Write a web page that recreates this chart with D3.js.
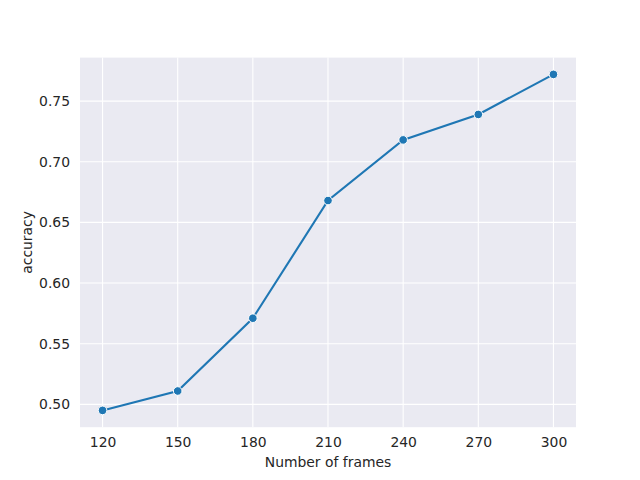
<!DOCTYPE html>
<html>
<head>
<meta charset="utf-8">
<script src="https://cdn.jsdelivr.net/npm/d3@7"></script>
<style>
  body { margin: 0; background: #fff; }
  text { font-family: "DejaVu Sans", sans-serif; fill: #262626; }
</style>
</head>
<body>
<script>
// data
var frames = [120, 150, 180, 210, 240, 270, 300];
var accuracy = [0.495, 0.511, 0.571, 0.668, 0.718, 0.739, 0.772];
var xTicks = [120, 150, 180, 210, 240, 270, 300];
var yTicks = [0.50, 0.55, 0.60, 0.65, 0.70, 0.75];

var width = 640, height = 480;
var margin = {left: 80, right: 64, top: 57.6, bottom: 52.8};
var innerW = width - margin.left - margin.right,
    innerH = height - margin.top - margin.bottom;

// matplotlib style 5% padding around the data
function padded(ext){
    var r = ext[1] - ext[0];
    return [ext[0] - r * 0.05, ext[1] + r * 0.05];
}

var xScale = d3.scaleLinear()
    .domain(padded(d3.extent(frames)))
    .range([0, innerW]);

var yScale = d3.scaleLinear()
    .domain(padded(d3.extent(accuracy)))
    .range([innerH, 0]);

var svg = d3.select("body")
    .append("svg")
    .attr("width", width)
    .attr("height", height);

var g = svg.append("g")
    .attr("transform", "translate(" + margin.left + "," + margin.top + ")");

//background panel
g.append("rect")
    .attr("width", innerW)
    .attr("height", innerH)
    .attr("fill", "#EAEAF2");

//grid lines
g.selectAll(".xgrid")
    .data(xTicks)
    .enter()
    .append("line")
    .attr("x1", function(d){ return xScale(d); })
    .attr("x2", function(d){ return xScale(d); })
    .attr("y1", 0)
    .attr("y2", innerH)
    .attr("stroke", "#fff")
    .attr("stroke-width", 1.1);

g.selectAll(".ygrid")
    .data(yTicks)
    .enter()
    .append("line")
    .attr("y1", function(d){ return yScale(d); })
    .attr("y2", function(d){ return yScale(d); })
    .attr("x1", 0)
    .attr("x2", innerW)
    .attr("stroke", "#fff")
    .attr("stroke-width", 1.1);

//axes, no tick marks or domain line
var xAxis = g.append("g")
    .attr("transform", "translate(0," + innerH + ")")
    .call(d3.axisBottom(xScale).tickValues(xTicks).tickSize(0).tickPadding(10));
var yAxis = g.append("g")
    .call(d3.axisLeft(yScale).tickValues(yTicks).tickSize(0).tickPadding(10)
        .tickFormat(d3.format(".2f")));

[xAxis, yAxis].forEach(function(a){
    a.select(".domain").remove();
    a.selectAll("text")
        .style("font-family", "DejaVu Sans, sans-serif")
        .style("font-size", "13.9px")
        .attr("fill", "#262626");
});

//line
var line = d3.line()
    .x(function(d, i){ return xScale(frames[i]); })
    .y(function(d){ return yScale(d); });

g.append("path")
    .datum(accuracy)
    .attr("d", line)
    .attr("fill", "none")
    .attr("stroke", "#1f77b4")
    .attr("stroke-width", 2.1);

//markers
g.selectAll(".dot")
    .data(accuracy)
    .enter()
    .append("circle")
    .attr("cx", function(d, i){ return xScale(frames[i]); })
    .attr("cy", function(d){ return yScale(d); })
    .attr("r", 4.3)
    .attr("fill", "#1f77b4")
    .attr("stroke", "#fff")
    .attr("stroke-width", 1);

//axis labels
svg.append("text")
    .attr("x", margin.left + innerW / 2)
    .attr("y", 467)
    .attr("text-anchor", "middle")
    .style("font-size", "13.9px")
    .text("Number of frames");

svg.append("text")
    .attr("transform", "translate(32," + (margin.top + innerH / 2) + ") rotate(-90)")
    .attr("text-anchor", "middle")
    .style("font-size", "13.9px")
    .text("accuracy");
</script>
</body>
</html>
